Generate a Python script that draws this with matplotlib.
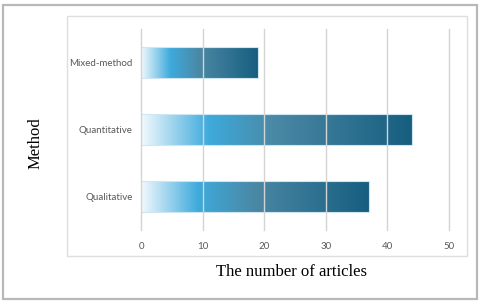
import numpy as np
import matplotlib
matplotlib.use("Agg")
import matplotlib.pyplot as plt
from matplotlib.colors import LinearSegmentedColormap
from matplotlib.patches import Rectangle

# data
methods = ["Qualitative", "Quantitative", "Mixed-method"]
articles = [37, 44, 19]
x_ticks = [0, 10, 20, 30, 40, 50]

grad = LinearSegmentedColormap.from_list(
    "bar_grad",
    [(0.0, "#f2f9fd"), (0.25, "#3eaadc"), (0.5, "#4a88a4"), (1.0, "#175e80")],
)

fig = plt.figure(figsize=(4.8, 3.05), dpi=100)
ax = fig.add_axes([0.294, 0.246, 0.641, 0.659])

# outer and inner frames
fig.add_artist(Rectangle((0.007, 0.02), 0.986, 0.965, transform=fig.transFigure,
                         fill=False, edgecolor="#b8b8b8", linewidth=1.6))
fig.add_artist(Rectangle((0.140, 0.161), 0.833, 0.787, transform=fig.transFigure,
                         fill=False, edgecolor="#dedede", linewidth=1.0))

bar_h = 0.46
ramp = np.linspace(0, 1, 256).reshape(1, -1)
for i, (m, v) in enumerate(zip(methods, articles)):
    ax.imshow(ramp, cmap=grad, aspect="auto", zorder=1,
              extent=[0, v, i - bar_h / 2, i + bar_h / 2])
    ax.barh(i, v, height=bar_h, color="none", edgecolor="#cfe6f2",
            linewidth=0.8, zorder=1.5)

ax.set_xlim(0, 50)
ax.set_ylim(-0.5, 2.5)
ax.set_xticks(x_ticks)
ax.set_yticks(range(len(methods)))
ax.set_yticklabels(methods)
ax.xaxis.grid(True, color="#d4d4d4", linewidth=1.0, zorder=3)
ax.set_axisbelow(False)
for gl in ax.get_xgridlines():
    gl.set_clip_on(False)
for s in ax.spines.values():
    s.set_visible(False)
ax.tick_params(length=0, labelsize=7, labelcolor="#595959", pad=6)
for lab in ax.get_xticklabels() + ax.get_yticklabels():
    lab.set_family("Lato")
ax.tick_params(axis="x", pad=9)

fig.text(0.608, 0.108, "The number of articles", ha="center", va="center",
         fontsize=12, family="Liberation Serif")
fig.text(0.073, 0.53, "Method", ha="center", va="center", rotation=90,
         fontsize=12, family="Liberation Serif")

fig.savefig("out.png", dpi=100)
